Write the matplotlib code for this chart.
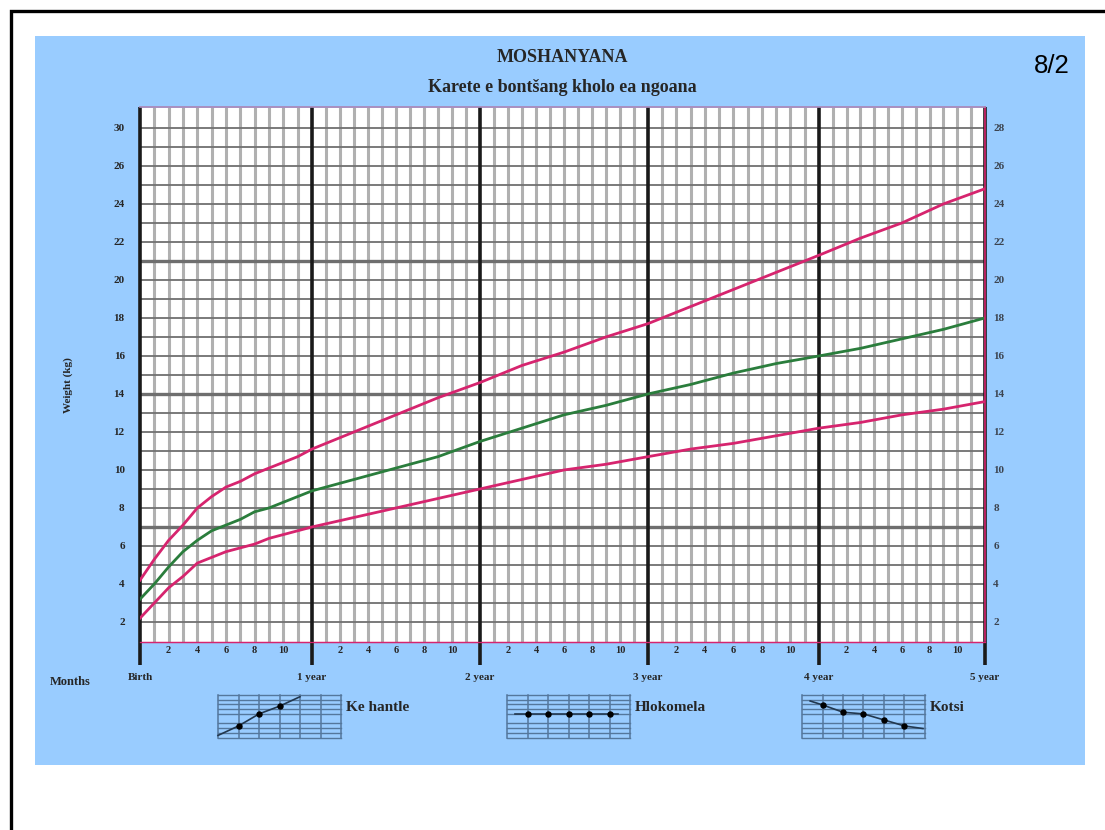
import numpy as np
import matplotlib.pyplot as plt

months = [0, 1, 2, 3, 4, 5, 6, 7, 8, 9, 10, 11, 12, 15, 18, 21, 24, 27, 30, 33, 36, 39, 42, 45, 48, 51, 54, 57, 60]
upper = [4.2, 5.3, 6.3, 7.1, 8.0, 8.6, 9.1, 9.4, 9.8, 10.1, 10.4, 10.7, 11.1, 12.0, 12.9, 13.8, 14.6, 15.5, 16.2, 17.0, 17.7, 18.6, 19.5, 20.4, 21.3, 22.2, 23.0, 24.0, 24.8]
middle = [3.2, 4.0, 4.9, 5.7, 6.3, 6.8, 7.1, 7.4, 7.8, 8.0, 8.3, 8.6, 8.9, 9.5, 10.1, 10.7, 11.5, 12.2, 12.9, 13.4, 14.0, 14.5, 15.1, 15.6, 16.0, 16.4, 16.9, 17.4, 18.0]
lower = [2.2, 3.0, 3.8, 4.4, 5.1, 5.4, 5.7, 5.9, 6.1, 6.4, 6.6, 6.8, 7.0, 7.5, 8.0, 8.5, 9.0, 9.5, 10.0, 10.3, 10.7, 11.1, 11.4, 11.8, 12.2, 12.5, 12.9, 13.2, 13.6]

weight_ticks = [2, 4, 6, 8, 10, 12, 14, 16, 18, 20, 22, 24, 26, 28]
left_labels = ['2', '4', '6', '8', '10', '12', '14', '16', '18', '20', '22', '24', '26', '30']
right_labels = ['2', '4', '6', '8', '10', '12', '14', '16', '18', '20', '22', '24', '26', '28']
thick_weights = [7, 14, 21]
year_labels = ['Birth', '1 year', '2 year', '3 year', '4 year', '5 year']
month_labels = ['2', '4', '6', '8', '10']

# the printed chart's years are not quite evenly spaced
year_months = [0, 12, 24, 36, 48, 60]
year_widths = [0, 172, 340, 508, 679, 845]

key_names = ['Ke hantle', 'Hlokomela', 'Kotsi']
key_up_x = [0, 1, 2, 3, 4]
key_up_y = [0.3, 1.4, 2.8, 3.7, 4.8]
key_flat_x = [0.4, 1, 2, 3, 4, 5, 5.4]
key_flat_y = [2.8, 2.8, 2.8, 2.8, 2.8, 2.8, 2.8]
key_down_x = [0.4, 1, 2, 3, 4, 5, 5.9]
key_down_y = [4.3, 3.85, 3.0, 2.8, 2.1, 1.4, 1.1]

W, H = 1105, 830
BLUE = '#99ccff'
PINK = '#d6246e'
GREEN = '#2a7d3c'
SERIF = 'Liberation Serif'
INK = '#262626'

plt.rcParams['font.family'] = SERIF
plt.rcParams['font.weight'] = 'bold'


def px_axes(fig, left, top, right, bottom):
    return fig.add_axes([left / W, 1 - bottom / H, (right - left) / W, (bottom - top) / H])


def to_width(m):
    return np.interp(m, year_months, year_widths)


def from_width(v):
    return np.interp(v, year_widths, year_months)


fig = plt.figure(figsize=(W / 100, H / 100), dpi=100, facecolor='white')

# page and blue panel, in pixel coordinates
bg = fig.add_axes([0, 0, 1, 1])
bg.set_xlim(0, W)
bg.set_ylim(H, 0)
bg.axis('off')
bg.fill_between([35, 1085], 36, 765, color=BLUE, lw=0)
bg.plot([11, 11, W], [H, 11, 11], color='black', lw=2.4, solid_joinstyle='miter')

bg.text(562, 58, 'MOSHANYANA', ha='center', va='center', fontsize=13, color=INK)
bg.text(562, 87, 'Karete e bontšang kholo ea ngoana', ha='center', va='center', fontsize=13, color=INK)
bg.text(1052, 66, '8/2', ha='center', va='center', fontsize=18.5, color='black',
        family='Liberation Sans', weight='normal')
bg.text(68, 385, 'Weight (kg)', rotation=90, ha='center', va='center', fontsize=8, color=INK)
bg.text(70, 682, 'Months', ha='center', va='center', fontsize=9, color=INK)

# main grid
ax = px_axes(fig, 140, 107, 985, 642)
ax.set_facecolor('white')
ax.set_xscale('function', functions=(to_width, from_width))
ax.set_xlim(0, 60)
ax.set_ylim(0.947, 29.1)

for m in range(1, 60):
    if m % 12:
        ax.axvline(m, color='#b0b0b0', lw=2.2, zorder=1)
for w in range(2, 29):
    if w in thick_weights:
        ax.axhline(w, color='#6e6e6e', lw=2.4, zorder=2)
    else:
        ax.axhline(w, color='#707070', lw=1.3, zorder=2)

for i in range(6):
    ax.plot([i * 12, i * 12], [-0.26, 29.1], color='#1a1a1a', lw=2.6, clip_on=False, zorder=3,
            solid_capstyle='butt')
    ax.text(i * 12, -0.92, year_labels[i], ha='center', va='center', fontsize=8, color=INK)

ax.plot(months, upper, color=PINK, lw=2.0, zorder=4)
ax.plot(months, middle, color=GREEN, lw=2.0, zorder=4)
ax.plot(months, lower, color=PINK, lw=2.0, zorder=4)

month_ticks = []
month_text = []
for i in range(5):
    for j in range(5):
        month_ticks.append(i * 12 + (j + 1) * 2)
        month_text.append(month_labels[j])
ax.set_xticks(month_ticks)
ax.set_xticklabels(month_text, fontsize=7.5, color=INK)
ax.minorticks_off()
ax.tick_params(axis='x', length=0, pad=3)
ax.set_yticks(weight_ticks)
ax.set_yticklabels(left_labels, fontsize=8, color=INK)
ax.tick_params(axis='y', length=0, pad=11)

right = ax.twinx()
right.set_ylim(ax.get_ylim())
right.set_yticks(weight_ticks)
right.set_yticklabels(right_labels, fontsize=8, color='#3c4450')
right.tick_params(axis='y', length=0, pad=6)

for a in [ax, right]:
    a.spines['top'].set_color('#a98fc0')
    a.spines['bottom'].set_color(PINK)
    a.spines['left'].set_visible(False)
    a.spines['right'].set_visible(False)
    a.spines['top'].set_linewidth(1.2)
    a.spines['bottom'].set_linewidth(0.9)
right.plot([60.1, 60.1], [1, 29.1], color=PINK, lw=1.2, clip_on=False, zorder=2)

# the three little key charts
key_boxes = [(218, 695, 341, 738), (507, 695, 630, 738), (802, 695, 925, 738)]
key_lines = [(key_up_x, key_up_y, key_up_x[1:4]), (key_flat_x, key_flat_y, key_flat_x[1:6]), (key_down_x, key_down_y, key_down_x[1:6])]
key_points = [key_up_y[1:4], key_flat_y[1:6], key_down_y[1:6]]

for k in range(3):
    box = key_boxes[k]
    kx = px_axes(fig, box[0], box[1], box[2], box[3])
    kx.set_facecolor(BLUE)
    kx.set_xlim(0, 6)
    kx.set_ylim(0, 5)
    for x in range(7):
        kx.axvline(x, color='#54779c', lw=1.1, clip_on=False)
    for y in [0.0, 0.6, 1.2, 1.8, 2.8, 3.4, 3.9, 4.4, 5.0]:
        kx.axhline(y, color='#54779c', lw=1.0, clip_on=False)
    kx.plot(key_lines[k][0], key_lines[k][1], color='#22384f', lw=1.2, clip_on=False)
    kx.plot(key_lines[k][2], key_points[k], 'o', color='black', ms=3.6, clip_on=False)
    kx.set_xticks([])
    kx.set_yticks([])
    for s in kx.spines.values():
        s.set_visible(False)
    bg.text(box[2] + 5, 707, key_names[k], ha='left', va='center', fontsize=11, color=INK)

fig.savefig('out.png', dpi=100)
